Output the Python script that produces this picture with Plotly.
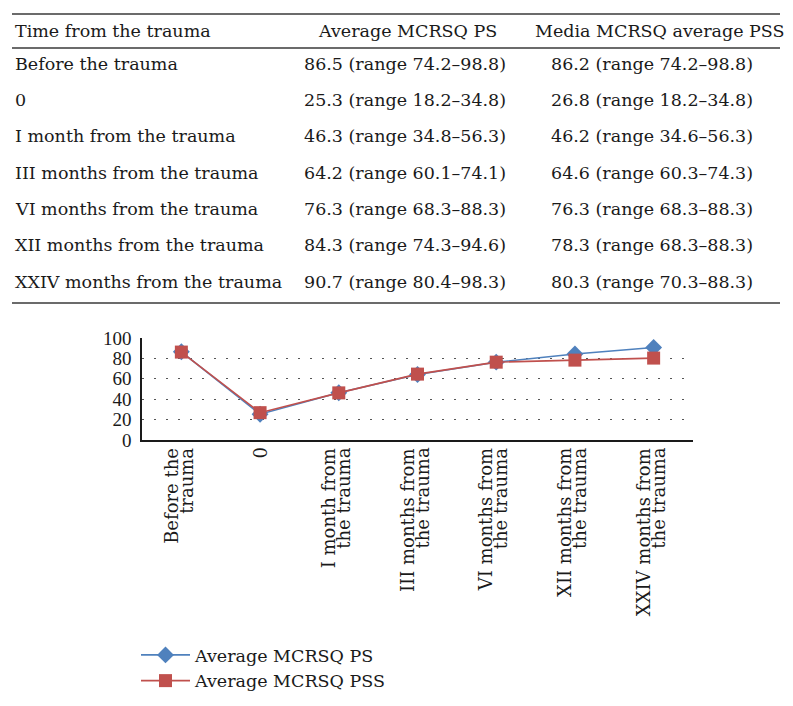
import plotly.graph_objects as go

# ---------------- data ----------------
time_points = ["Before the trauma", "0", "I month from the trauma", "III months from the trauma",
               "VI months from the trauma", "XII months from the trauma", "XXIV months from the trauma"]
axis_label_lines = [["Before the", "trauma"], ["0"], ["I month from", "the trauma"],
                    ["III months from", "the trauma"], ["VI months from", "the trauma"],
                    ["XII months from", "the trauma"], ["XXIV months from", "the trauma"]]
ps_mean = [86.5, 25.3, 46.3, 64.2, 76.3, 84.3, 90.7]
ps_low = [74.2, 18.2, 34.8, 60.1, 68.3, 74.3, 80.4]
ps_high = [98.8, 34.8, 56.3, 74.1, 88.3, 94.6, 98.3]
pss_mean = [86.2, 26.8, 46.2, 64.6, 76.3, 78.3, 80.3]
pss_low = [74.2, 18.2, 34.6, 60.3, 68.3, 68.3, 70.3]
pss_high = [98.8, 34.8, 56.3, 74.3, 88.3, 88.3, 88.3]
table_headers = ["Time from the trauma", "Average MCRSQ PS", "Media MCRSQ average PSS"]
series_names = ["Average MCRSQ PS", "Average MCRSQ PSS"]
y_ticks = [0, 20, 40, 60, 80, 100]

# ---------------- layout helpers ----------------
W, H = 793, 706
OFF = 8  # page body margin offset
def px(x):
    return (x - OFF) / W
def py(y):
    return 1 - (y - OFF) / H

FONT = "DejaVu Serif"
BLUE = "#4f81bd"
RED = "#c0504d"
TXT = "#1a1a1a"

fig = go.Figure()
fig.add_trace(go.Scatter(x=time_points, y=ps_mean, name=series_names[0], mode="lines+markers",
                         line=dict(color=BLUE, width=1.6),
                         marker=dict(symbol="diamond", size=13, color=BLUE)))
fig.add_trace(go.Scatter(x=time_points, y=pss_mean, name=series_names[1], mode="lines+markers",
                         line=dict(color=RED, width=1.6),
                         marker=dict(symbol="square", size=13, color=RED)))

annotations = []
# table text
tbl_font = dict(family=FONT, size=17.5, color=TXT)
row_y = [64, 100, 136, 173, 209, 245, 282]
annotations.append(dict(text=table_headers[0], x=px(13), y=py(31), xanchor="left", yanchor="middle",
                        xref="paper", yref="paper", showarrow=False, font=tbl_font))
annotations.append(dict(text=table_headers[1], x=px(407), y=py(31), xanchor="center", yanchor="middle",
                        xref="paper", yref="paper", showarrow=False, font=tbl_font))
annotations.append(dict(text=table_headers[2], x=px(660), y=py(31), xanchor="center", yanchor="middle",
                        xref="paper", yref="paper", showarrow=False, font=tbl_font))
for i, t in enumerate(time_points):
    annotations.append(dict(text=t, x=px(13), y=py(row_y[i]), xanchor="left", yanchor="middle",
                            xref="paper", yref="paper", showarrow=False, font=tbl_font))
    annotations.append(dict(text=f"{ps_mean[i]} (range {ps_low[i]}\u2013{ps_high[i]})",
                            x=px(405), y=py(row_y[i]), xanchor="center", yanchor="middle",
                            xref="paper", yref="paper", showarrow=False, font=tbl_font))
    annotations.append(dict(text=f"{pss_mean[i]} (range {pss_low[i]}\u2013{pss_high[i]})",
                            x=px(652), y=py(row_y[i]), xanchor="center", yanchor="middle",
                            xref="paper", yref="paper", showarrow=False, font=tbl_font))

# category axis labels (two tight lines, rotated)
lab_font = dict(family=FONT, size=18, color=TXT)
for i, lines in enumerate(axis_label_lines):
    shifts = [-10.5, 4.5] if len(lines) == 2 else [0]
    for ln, sh in zip(lines, shifts):
        annotations.append(dict(text=ln, x=i, xref="x", y=py(446), yref="paper",
                                xanchor="center", yanchor="top", xshift=sh, textangle=-90,
                                showarrow=False, font=lab_font))

shapes = []
for yy in [14, 48, 303]:
    shapes.append(dict(type="line", xref="paper", yref="paper", x0=px(12), x1=px(780),
                       y0=py(yy), y1=py(yy), line=dict(color="#3a3a3a", width=1.6)))

fig.update_layout(
    width=W, height=H, autosize=False,
    margin=dict(l=0, r=0, t=0, b=0, pad=0, autoexpand=False),
    paper_bgcolor="white", plot_bgcolor="white",
    showlegend=True,
    legend=dict(x=px(136), y=py(637), xanchor="left", yanchor="top", itemwidth=49,
                font=dict(family=FONT, size=17.5, color=TXT),
                bgcolor="rgba(0,0,0,0)", tracegroupgap=0),
    xaxis=dict(domain=[px(142), px(693)], type="category", range=[-0.5, 6.5], automargin=False,
               showticklabels=False, showgrid=False, zeroline=False,
               showline=True, linecolor=TXT, linewidth=1.6, ticks=""),
    yaxis=dict(domain=[py(440), py(338)], range=[0, 100], tickvals=y_ticks, automargin=False,
               showgrid=True, gridcolor="#555555", gridwidth=1, griddash="2px,10px",
               zeroline=False, showline=True, linecolor=TXT, linewidth=1.6,
               ticks="outside", ticklen=5, tickcolor="rgba(0,0,0,0)",
               tickfont=dict(family="Liberation Serif", size=19, color=TXT)),
    annotations=annotations,
    shapes=shapes,
)

fig.write_html("out.html")
